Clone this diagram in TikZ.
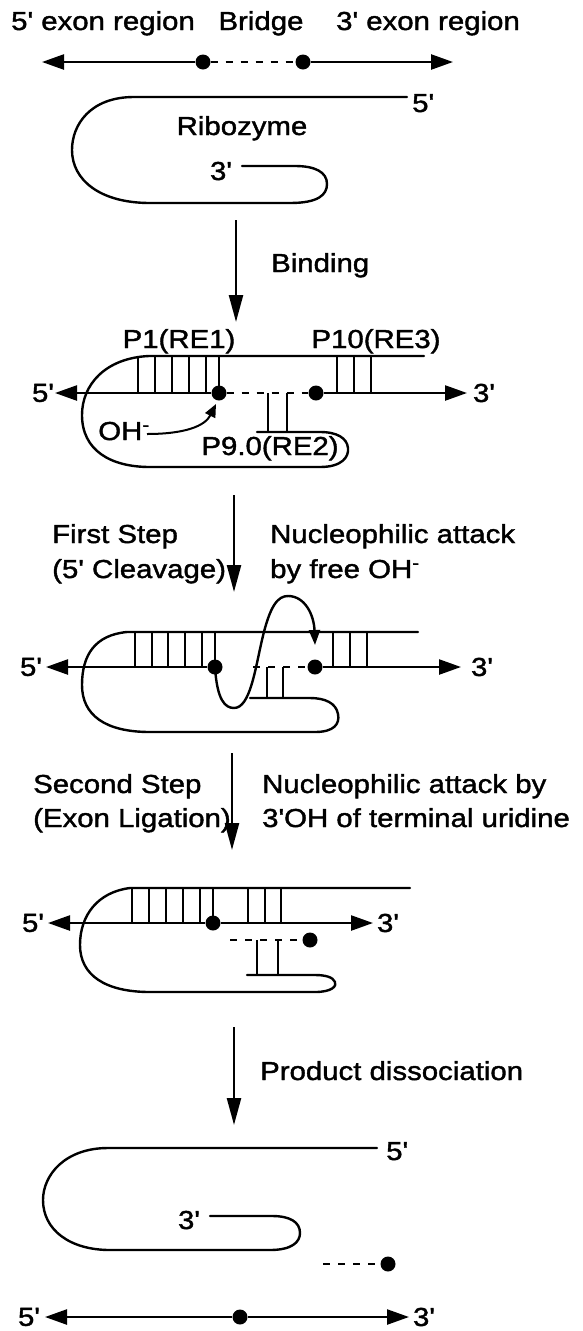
\documentclass[tikz,border=0pt]{standalone}
\usepackage{fontspec}
\setmainfont{Liberation Sans}[FakeStretch=1.13,FakeBold=1.5,Ligatures=TeXOff]
\usetikzlibrary{arrows.meta}
\tikzset{
  strand/.style={line width=2.4pt,line join=round,line cap=round},
  harrow/.style={line width=2.4pt,-{Triangle[length=22pt,width=15pt]}},
  varrow/.style={line width=2.4pt,-{Triangle[length=27pt,width=14pt]}},
  dotn/.style={circle,fill=black,inner sep=0pt,minimum size=15pt},
  dashln/.style={line width=2.4pt,dash pattern=on 7pt off 8pt},
  bar/.style={line width=2.4pt},
  lbl/.style={inner sep=0pt,font=\fontsize{26}{30}\selectfont},
  oharrow/.style={line width=2pt,-{Triangle[length=13pt,width=11pt]}},
}
\begin{document}
\begin{tikzpicture}[x=1pt,y=-1pt]
\useasboundingbox (0,0) rectangle (583,1331);

% ---------- titles ----------
\node[lbl,anchor=base] (t5ex) at (103,30) {5' exon region};
\node[lbl,anchor=base] (tbr) at (261,30) {Bridge};
\node[lbl,anchor=base] (t3ex) at (428,30) {3' exon region};

% ---------- substrate (top) ----------
\node[dotn] (d01) at (203,62) {};
\node[dotn] (d02) at (303,62) {};
\coordinate (L0) at (42,62);
\coordinate (R0) at (453,62);
\draw[harrow] (d01) -- (L0);
\draw[harrow] (d02) -- (R0);
\draw[dashln] (d01) -- (d02);

% ---------- ribozyme ----------
\draw[strand] (407,97) -- (134,97) .. controls (90,97) and (72,125) .. (72,150)
  .. controls (72,180) and (100,203) .. (150,203) -- (290,203)
  .. controls (318,203) and (327,195) .. (327,184)
  .. controls (327,172) and (315,166) .. (295,166) -- (242,166);
\node[lbl,anchor=base west] (r5) at (412,112) {5'};
\node[lbl,anchor=base] (rib) at (242,135) {Ribozyme};
\node[lbl,anchor=base] (r3) at (221,180) {3'};

% ---------- binding arrow ----------
\coordinate (b1) at (236,220);
\coordinate (b2) at (236,322);
\draw[varrow] (b1) -- (b2);
\node[lbl,anchor=base west] (tbind) at (271,272) {Binding};

% ---------- complex 1 ----------
\node[lbl,anchor=base] (p1) at (179,348) {P1(RE1)};
\node[lbl,anchor=base] (p10) at (376,348) {P10(RE3)};
\draw[strand] (424,356) -- (149,356) .. controls (105,358) and (82,385) .. (82,415)
  .. controls (82,450) and (110,467) .. (150,467) -- (320,467)
  .. controls (342,467) and (349,457) .. (348,448)
  .. controls (347,438) and (337,432) .. (320,432) -- (257,432);
\node[dotn] (d21) at (219,393) {};
\node[dotn] (d22) at (316,393) {};
\coordinate (L2) at (55,393);
\coordinate (R2) at (467,393);
\draw[harrow] (d21) -- (L2);
\draw[harrow] (d22) -- (R2);
\draw[dashln] (d21) -- (d22);
\foreach \x in {138,155,172,189,206} \draw[bar] (\x,356) -- (\x,393);
\draw[bar] (219,356) -- (d21.center);
\foreach \x in {337,354,371} \draw[bar] (\x,356) -- (\x,393);
\foreach \x in {268,287} \draw[bar] (\x,393) -- (\x,432);
\node[lbl] (c25) at (43,393) {5'};
\node[lbl] (c23) at (484,393) {3'};
\node[lbl,anchor=base] (oh) at (124,440) {OH\textsuperscript{-}};
\coordinate (ohs) at (147,434);
\coordinate (ohe) at (216,404);
\draw[oharrow] (ohs) .. controls (185,434) and (205,426) .. (ohe);
\node[lbl,anchor=base] (p9) at (270,455) {P9.0(RE2)};

% ---------- first step ----------
\coordinate (f1) at (234,495);
\coordinate (f2) at (234,592);
\draw[varrow] (f1) -- (f2);
\node[lbl,anchor=base west] (fs1) at (52,543) {First Step};
\node[lbl,anchor=base west] (fs2) at (52,578) {(5' Cleavage)};
\node[lbl,anchor=base west] (fn1) at (270,543) {Nucleophilic attack};
\node[lbl,anchor=base west] (fn2) at (270,578) {by free OH\textsuperscript{-}};

% ---------- complex 2 ----------
\draw[strand] (418,632) -- (127,632) .. controls (95,635) and (82,655) .. (82,685)
  .. controls (82,715) and (105,732) .. (150,732) -- (315,732)
  .. controls (334,732) and (340,724) .. (338,714)
  .. controls (336,703) and (325,698) .. (310,698) -- (250,698);
\node[dotn] (d31) at (215,667) {};
\node[dotn] (d32) at (315,667) {};
\coordinate (L3) at (46,667);
\coordinate (R3) at (461,667);
\draw[harrow] (d31) -- (L3);
\draw[harrow] (d32) -- (R3);
\coordinate (ds3) at (253,667);
\draw[dashln] (ds3) -- (d32);
\foreach \x in {135,152,168,185,202} \draw[bar] (\x,632) -- (\x,667);
\draw[bar] (215,632) -- (d31.center);
\foreach \x in {333,350,367} \draw[bar] (\x,632) -- (\x,667);
\foreach \x in {267,283} \draw[bar] (\x,667) -- (\x,698);
\coordinate (sa) at (315,645);
\draw[strand,-{Triangle[length=15pt,width=11pt]}] (d31.center) .. controls (217,700) and (225,708) .. (234,708)
  .. controls (250,708) and (255,670) .. (262,640)
  .. controls (270,605) and (278,596) .. (288,596)
  .. controls (305,596) and (314,615) .. (sa);
\node[lbl] (c35) at (31,667) {5'};
\node[lbl] (c33) at (482,667) {3'};

% ---------- second step ----------
\coordinate (s1) at (232,753);
\coordinate (s2) at (232,850);
\draw[varrow] (s1) -- (s2);
\node[lbl,anchor=base west] (ss1) at (33,793) {Second Step};
\node[lbl,anchor=base west] (ss2) at (33,827) {(Exon Ligation)};
\node[lbl,anchor=base west] (sn1) at (262,793) {Nucleophilic attack by};
\node[lbl,anchor=base west] (sn2) at (262,827) {3'OH of terminal uridine};

% ---------- complex 3 ----------
\draw[strand] (410,888) -- (130,888) .. controls (98,892) and (80,915) .. (80,945)
  .. controls (80,975) and (105,992) .. (150,992) -- (315,992)
  .. controls (332,992) and (337,986) .. (335,982)
  .. controls (333,977) and (325,975) .. (315,975) -- (247,975);
\node[dotn] (d41) at (213,923) {};
\coordinate (L4) at (48,923);
\coordinate (R4) at (373,923);
\draw[harrow] (d41) -- (L4);
\draw[harrow] (d41) -- (R4);
\foreach \x in {132,149,166,183,200} \draw[bar] (\x,888) -- (\x,923);
\draw[bar] (213,888) -- (d41.center);
\foreach \x in {248,265,281} \draw[bar] (\x,888) -- (\x,923);
\node[dotn] (d42) at (310,940) {};
\coordinate (ds4) at (230,940);
\draw[dashln] (ds4) -- (d42);
\foreach \x in {257,278} \draw[bar] (\x,940) -- (\x,975);
\node[lbl] (c45) at (33,923) {5'};
\node[lbl] (c43) at (388,923) {3'};

% ---------- product dissociation ----------
\coordinate (q1) at (234,1027);
\coordinate (q2) at (234,1125);
\draw[varrow] (q1) -- (q2);
\node[lbl,anchor=base west] (pd) at (260,1080) {Product dissociation};

% ---------- free ribozyme ----------
\draw[strand] (377,1148) -- (108,1148) .. controls (65,1148) and (43,1175) .. (43,1200)
  .. controls (43,1230) and (70,1250) .. (110,1250) -- (270,1250)
  .. controls (292,1250) and (300,1242) .. (300,1233)
  .. controls (300,1222) and (290,1216) .. (272,1216) -- (210,1216);
\node[lbl,anchor=base west] (f5) at (386,1160) {5'};
\node[lbl,anchor=base] (f3) at (189,1229) {3'};

% ---------- released bridge ----------
\node[dotn] (d51) at (388,1264) {};
\coordinate (ds5) at (323,1264);
\draw[dashln] (ds5) -- (d51);

% ---------- ligated exons ----------
\node[dotn] (d61) at (240,1317) {};
\coordinate (L6) at (45,1317);
\coordinate (R6) at (409,1317);
\draw[harrow] (d61) -- (L6);
\draw[harrow] (d61) -- (R6);
\node[lbl] (c65) at (29,1317) {5'};
\node[lbl] (c63) at (424,1317) {3'};
\end{tikzpicture}
\end{document}
